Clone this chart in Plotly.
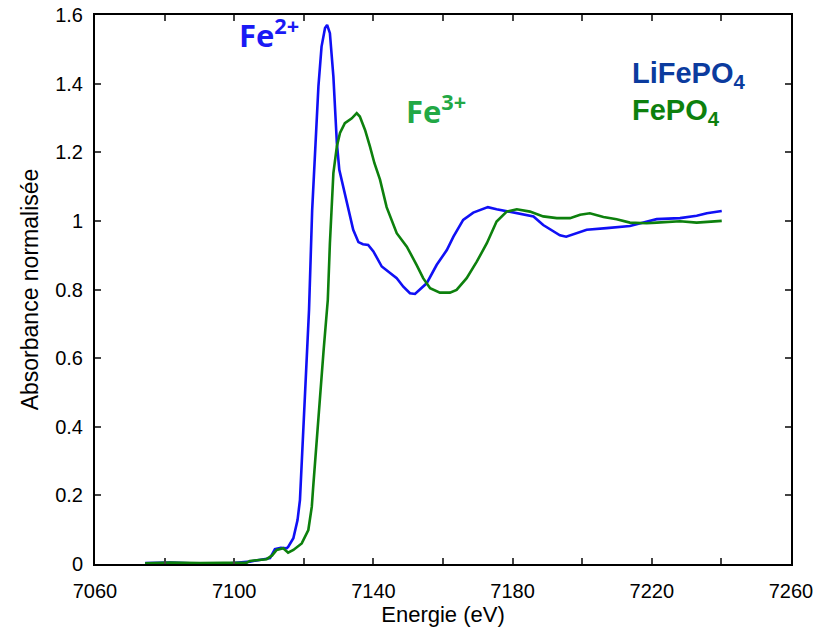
import plotly.graph_objects as go

# LiFePO4 (Fe2+) spectrum
lfp_energy = [7074.4, 7081.6, 7087.3, 7093.0, 7098.8, 7104.5, 7108.0, 7110.3, 7111.7, 7113.4,
              7115.1, 7115.5, 7117.0, 7118.2, 7118.9, 7119.6, 7120.3, 7121.1, 7121.5, 7122.4,
              7123.2, 7124.2, 7125.1, 7126.1, 7126.7, 7127.5, 7128.5, 7129.0, 7129.5, 7130.2,
              7131.3, 7132.8, 7134.2, 7135.7, 7137.0, 7138.5, 7140.0, 7142.4, 7144.8, 7146.7,
              7148.6, 7150.5, 7151.95, 7153.9, 7155.3, 7158.2, 7161.1, 7163.0, 7165.8, 7168.7,
              7171.6, 7172.9, 7175.4, 7179.3, 7183.1, 7186.0, 7188.8, 7191.7, 7193.6, 7195.4,
              7198.4, 7201.3, 7207.0, 7213.7, 7217.6, 7221.4, 7228.1, 7232.9, 7235.8, 7240.1]
lfp_abs = [0.003, 0.004, 0.002, 0.003, 0.002, 0.007, 0.012, 0.017, 0.043, 0.047,
           0.046, 0.050, 0.075, 0.128, 0.187, 0.330, 0.478, 0.620, 0.740, 1.030,
           1.207, 1.392, 1.508, 1.562, 1.571, 1.547, 1.421, 1.324, 1.227, 1.149,
           1.100, 1.032, 0.974, 0.938, 0.932, 0.930, 0.911, 0.867, 0.848, 0.833,
           0.808, 0.789, 0.787, 0.804, 0.818, 0.872, 0.915, 0.954, 1.003, 1.024,
           1.034, 1.040, 1.034, 1.027, 1.020, 1.013, 0.988, 0.969, 0.958, 0.954,
           0.964, 0.974, 0.979, 0.985, 0.995, 1.005, 1.008, 1.015, 1.022, 1.029]

# FePO4 (Fe3+) spectrum
fp_energy = [7074.4, 7081.6, 7090.2, 7098.8, 7103.6, 7104.5, 7109.3, 7110.9, 7112.2, 7114.1,
             7115.5, 7117.0, 7118.3, 7119.4, 7121.3, 7122.3, 7122.7, 7123.6, 7124.7, 7125.7,
             7126.9, 7127.5, 7128.5, 7129.5, 7130.4, 7131.8, 7133.8, 7135.2, 7136.1, 7137.6,
             7139.0, 7140.3, 7141.9, 7143.8, 7146.7, 7149.6, 7152.4, 7154.3, 7156.3, 7159.1,
             7162.0, 7163.9, 7166.8, 7169.7, 7172.6, 7175.4, 7178.3, 7181.2, 7185.0, 7188.8,
             7192.7, 7196.5, 7199.4, 7202.2, 7206.1, 7209.9, 7213.7, 7218.5, 7221.4, 7228.1,
             7232.9, 7240.1]
fp_abs = [0.002, 0.004, 0.003, 0.003, 0.004, 0.009, 0.014, 0.025, 0.041, 0.046,
          0.033, 0.041, 0.050, 0.060, 0.099, 0.167, 0.225, 0.350, 0.478, 0.624,
          0.770, 0.935, 1.139, 1.217, 1.256, 1.285, 1.299, 1.314, 1.304, 1.265,
          1.217, 1.168, 1.120, 1.040, 0.964, 0.925, 0.872, 0.833, 0.804, 0.791,
          0.791, 0.799, 0.833, 0.881, 0.935, 0.998, 1.027, 1.034, 1.027, 1.013,
          1.008, 1.008, 1.018, 1.022, 1.011, 1.005, 0.995, 0.993, 0.995, 0.999,
          0.995, 1.000]

x_ticks = [7060, 7080, 7100, 7120, 7140, 7160, 7180, 7200, 7220, 7240, 7260]
x_labels = ["7060", "", "7100", "", "7140", "", "7180", "", "7220", "", "7260"]
y_ticks = [0, 0.2, 0.4, 0.6, 0.8, 1, 1.2, 1.4, 1.6]
y_labels = ["0", "0.2", "0.4", "0.6", "0.8", "1", "1.2", "1.4", "1.6"]

fig = go.Figure()
fig.add_trace(go.Scatter(x=lfp_energy, y=lfp_abs, mode="lines", name="LiFePO4",
                         line=dict(color="#1010f5", width=2.6), showlegend=False))
fig.add_trace(go.Scatter(x=fp_energy, y=fp_abs, mode="lines", name="FePO4",
                         line=dict(color="#0d800d", width=2.6), showlegend=False))

ann_font = "'Open Sans', 'Noto Sans', sans-serif"
arial = "Liberation Sans, Arial, sans-serif"
fig.add_annotation(x=7110, y=1.545, xref="x", yref="y", text="<b>Fe<sup>2+</sup></b>",
                   showarrow=False, xanchor="center", yanchor="middle",
                   font=dict(family=ann_font, size=31, color="#1a1af5", weight="bold"))
fig.add_annotation(x=7158, y=1.325, xref="x", yref="y", text="<b>Fe<sup>3+</sup></b>",
                   showarrow=False, xanchor="center", yanchor="middle",
                   font=dict(family=ann_font, size=31, color="#22a845", weight="bold"))
fig.add_annotation(x=7213.8, y=1.425, xref="x", yref="y", text="<b>LiFePO<sub>4</sub></b>",
                   showarrow=False, xanchor="left", yanchor="middle",
                   font=dict(family=arial, size=29, color="#0b3b9e"))
fig.add_annotation(x=7213.8, y=1.318, xref="x", yref="y", text="<b>FePO<sub>4</sub></b>",
                   showarrow=False, xanchor="left", yanchor="middle",
                   font=dict(family=arial, size=29, color="#0d800d"))

axis_common = dict(showgrid=False, zeroline=False, showline=True, linecolor="black",
                   linewidth=2, mirror="ticks", ticks="inside", ticklen=6, tickwidth=1.5,
                   tickcolor="#444444", automargin=False,
                   tickfont=dict(family=arial, size=20, color="black"))

fig.update_xaxes(range=[7060, 7260], tickmode="array", tickvals=x_ticks, ticktext=x_labels,
                 title=dict(text="Energie (eV)", standoff=4,
                            font=dict(family=arial, size=22, color="black")),
                 ticklabelstandoff=8, **axis_common)
fig.update_yaxes(range=[0, 1.6], tickmode="array", tickvals=y_ticks, ticktext=y_labels,
                 title=dict(text="Absorbance normalisée", standoff=10,
                            font=dict(family=arial, size=23, color="black")),
                 ticklabelstandoff=6, **axis_common)

fig.update_layout(width=818, height=631, margin=dict(l=95, r=27, t=15, b=67),
                  plot_bgcolor="white", paper_bgcolor="white")

fig.write_html("out.html")
